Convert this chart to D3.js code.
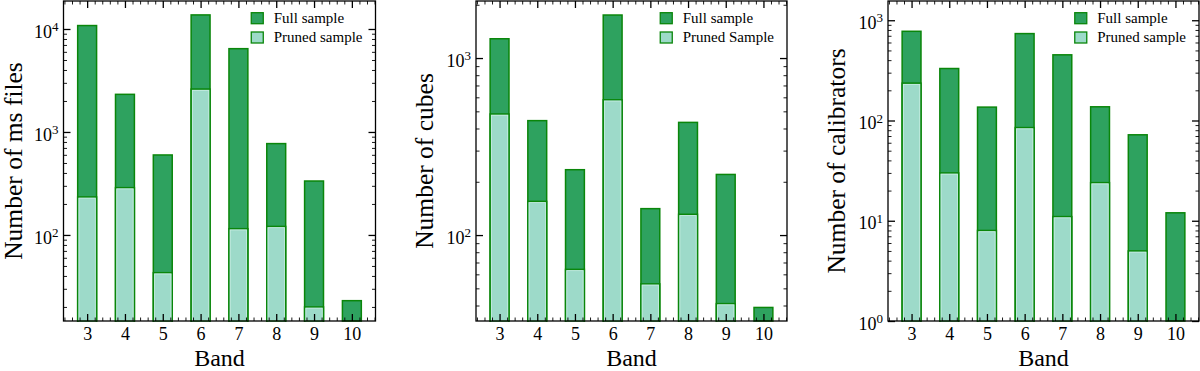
<!DOCTYPE html>
<html>
<head>
<meta charset="utf-8">
<script src="https://cdn.jsdelivr.net/npm/d3@7"></script>
<style>
  body { margin: 0; background: #fff; }
  svg text { font-family: "Liberation Serif", "Times New Roman", serif; fill: #000; }
</style>
</head>
<body>
<script>
//Declare consts/global variables
    const width = 1200;
    const height = 371;
    const top_ = 1;
    const bottom = 321;

//Data
    const bands = [3, 4, 5, 6, 7, 8, 9, 10];

    const msFull   = [10800, 2320, 598, 13700, 6440, 771, 334, 23];
    const msPruned = [234, 288, 43, 2610, 115, 121, 20, 0];

    const cubesFull   = [1285, 443, 234, 1750, 141, 433, 220, 39];
    const cubesPruned = [483, 155, 64, 581, 53, 131, 41, 0];

    const calFull   = [776, 330, 136, 736, 452, 137, 72, 12];
    const calPruned = [236, 30, 8, 85, 11, 24, 5, 0];

    const msTicks = [2, 3, 4];       // exponents of labelled decades
    const cubesTicks = [2, 3];
    const calTicks = [0, 1, 2, 3];

    const xDomain = [2.375, 10.625];
    const msDomain = [14.6, 18700];
    const cubesDomain = [32.7, 2100];
    const calDomain = [1, 1556];

    const panels = [
        {left: 63.5, right: 375.5, full: msFull, pruned: msPruned, yDomain: msDomain, decades: msTicks,
         ylabel: "Number of ms files", ylabelX: 21.5, legend: ["Full sample", "Pruned sample"]},
        {left: 476, right: 787, full: cubesFull, pruned: cubesPruned, yDomain: cubesDomain, decades: cubesTicks,
         ylabel: "Number of cubes", ylabelX: 433, legend: ["Full sample", "Pruned Sample"]},
        {left: 888, right: 1199, full: calFull, pruned: calPruned, yDomain: calDomain, decades: calTicks,
         ylabel: "Number of calibrators", ylabelX: 845, legend: ["Full sample", "Pruned sample"]}
    ];

    const fullColor = "#2ea25f";
    const prunedColor = "#9ddac9";
    const edgeColor = "#0a860a";

//SVG
    const svg = d3.select("body")
                .append("svg")
                .attr("width", width)
                .attr("height", height);

    svg.append("rect").attr("width", width).attr("height", height).attr("fill", "#fff");

    panels.forEach(p => {
        const g = svg.append("g");

        //Scales
        const xScale = d3.scaleLinear()
                        .domain(xDomain)
                        .range([p.left, p.right]);

        const yScale = d3.scaleLog()
                        .domain(p.yDomain)
                        .range([bottom, top_]);

        const barW = xScale(0.5) - xScale(0);
        const rows = bands.map((b, i) => ({band: b, full: p.full[i], pruned: p.pruned[i]}));

        //Bars - full sample first, pruned on top
        g.selectAll("rect.full")
            .data(rows)
            .enter()
            .append("rect")
            .attr("class", "full")
            .attr("x", d => xScale(d.band) - barW / 2)
            .attr("y", d => yScale(d.full))
            .attr("width", barW)
            .attr("height", d => bottom - yScale(d.full))
            .attr("fill", fullColor)
            .attr("stroke", edgeColor)
            .attr("stroke-width", 1.5);

        g.selectAll("rect.pruned")
            .data(rows.filter(d => d.pruned > 0))
            .enter()
            .append("rect")
            .attr("class", "pruned")
            .attr("x", d => xScale(d.band) - barW / 2)
            .attr("y", d => yScale(d.pruned))
            .attr("width", barW)
            .attr("height", d => bottom - yScale(d.pruned))
            .attr("fill", prunedColor)
            .attr("stroke", edgeColor)
            .attr("stroke-width", 1.5);

        // light inner edge of pruned bars
        g.selectAll("rect.prunedEdge")
            .data(rows.filter(d => d.pruned > 0))
            .enter()
            .append("rect")
            .attr("x", d => xScale(d.band) - barW / 2 + 1.3)
            .attr("y", d => yScale(d.pruned) + 1.3)
            .attr("width", barW - 2.6)
            .attr("height", d => bottom - yScale(d.pruned) - 1.3)
            .attr("fill", "none")
            .attr("stroke", "#c6ece1")
            .attr("stroke-width", 0.8);

        //Ticks
        const minorX = d3.range(Math.ceil(xDomain[0] * 5), Math.floor(xDomain[1] * 5) + 1)
                         .map(v => v / 5)
                         .filter(v => Math.abs(v - Math.round(v)) > 1e-6);

        const lo = Math.floor(Math.log10(p.yDomain[0])), hi = Math.ceil(Math.log10(p.yDomain[1]));
        const minorY = [];
        for (let e = lo; e <= hi; e++) {
            for (let k = 2; k <= 9; k++) {
                const v = k * Math.pow(10, e);
                if (v > p.yDomain[0] && v < p.yDomain[1]) minorY.push(v);
            }
        }
        const majorY = p.decades.map(e => Math.pow(10, e));

        const styleAxis = (sel, w) => {
            sel.select(".domain").remove();
            sel.selectAll("line").attr("stroke", "#000").attr("stroke-width", w);
        };

        //Axes - bottom and top
        g.append("g")
            .attr("transform", "translate(0," + bottom + ")")
            .call(d3.axisBottom(xScale).tickValues(bands).tickSizeInner(-7).tickSizeOuter(0).tickPadding(6).tickFormat(d3.format("d")))
            .call(s => styleAxis(s, 1.3))
            .call(s => s.selectAll("text").attr("font-size", 18));

        g.append("g")
            .attr("transform", "translate(0," + bottom + ")")
            .call(d3.axisBottom(xScale).tickValues(minorX).tickSizeInner(-3.5).tickSizeOuter(0).tickFormat(""))
            .call(s => styleAxis(s, 0.9));

        g.append("g")
            .attr("transform", "translate(0," + top_ + ")")
            .call(d3.axisTop(xScale).tickValues(bands).tickSizeInner(-7).tickSizeOuter(0).tickFormat(""))
            .call(s => styleAxis(s, 1.3));

        g.append("g")
            .attr("transform", "translate(0," + top_ + ")")
            .call(d3.axisTop(xScale).tickValues(minorX).tickSizeInner(-3.5).tickSizeOuter(0).tickFormat(""))
            .call(s => styleAxis(s, 0.9));

        //Axes - left and right
        const leftAxis = g.append("g")
            .attr("transform", "translate(" + p.left + ",0)")
            .call(d3.axisLeft(yScale).tickValues(majorY).tickSizeInner(-7).tickSizeOuter(0).tickPadding(5).tickFormat(""))
            .call(s => styleAxis(s, 1.3));

        leftAxis.selectAll(".tick text")
            .attr("font-size", 18)
            .attr("dy", "0.45em")
            .each(function(d) {
                const t = d3.select(this);
                t.append("tspan").text("10");
                t.append("tspan").attr("dy", "-0.5em").attr("font-size", 13).text(Math.round(Math.log10(d)));
            });

        g.append("g")
            .attr("transform", "translate(" + p.left + ",0)")
            .call(d3.axisLeft(yScale).tickValues(minorY).tickSizeInner(-3.5).tickSizeOuter(0).tickFormat(""))
            .call(s => styleAxis(s, 0.9));

        g.append("g")
            .attr("transform", "translate(" + p.right + ",0)")
            .call(d3.axisRight(yScale).tickValues(majorY).tickSizeInner(-7).tickSizeOuter(0).tickFormat(""))
            .call(s => styleAxis(s, 1.3));

        g.append("g")
            .attr("transform", "translate(" + p.right + ",0)")
            .call(d3.axisRight(yScale).tickValues(minorY).tickSizeInner(-3.5).tickSizeOuter(0).tickFormat(""))
            .call(s => styleAxis(s, 0.9));

        //Frame
        g.append("rect")
            .attr("x", p.left)
            .attr("y", top_)
            .attr("width", p.right - p.left)
            .attr("height", bottom - top_)
            .attr("fill", "none")
            .attr("stroke", "#000")
            .attr("stroke-width", 1.3);

        //Labels
        g.append("text")
            .attr("x", (p.left + p.right) / 2)
            .attr("y", 365.5)
            .attr("text-anchor", "middle")
            .attr("font-size", 24)
            .text("Band");

        g.append("text")
            .attr("transform", "translate(" + p.ylabelX + "," + ((top_ + bottom) / 2) + ") rotate(-90)")
            .attr("text-anchor", "middle")
            .attr("font-size", 25.5)
            .text(p.ylabel);

        //Legend
        const leg = g.append("g");
        const colors = [fullColor, prunedColor];
        const texts = p.legend.map((lab, i) => leg.append("text")
            .attr("y", 22.5 + i * 19.3)
            .attr("font-size", 15)
            .text(lab));
        const maxW = d3.max(texts, t => t.node().getComputedTextLength());
        const tx = p.right - 13 - maxW;
        texts.forEach(t => t.attr("x", tx));
        colors.forEach((c, i) => {
            leg.append("rect")
                .attr("x", tx - 22.5)
                .attr("y", 12.7 + i * 19.3)
                .attr("width", 12)
                .attr("height", 11)
                .attr("fill", c)
                .attr("stroke", edgeColor)
                .attr("stroke-width", 1.3);
        });
    });
</script>
</body>
</html>
